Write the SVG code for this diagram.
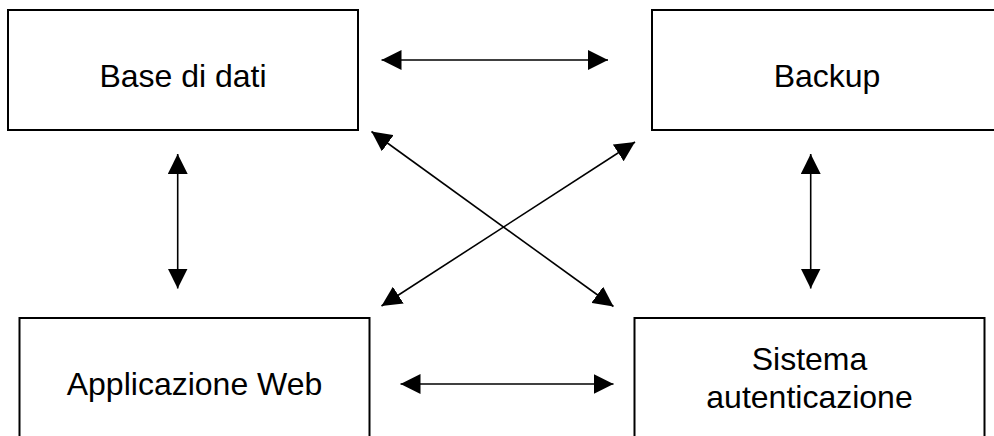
<svg xmlns="http://www.w3.org/2000/svg" width="994" height="436" viewBox="0 0 994 436">
  <style>
    .box { fill: #ffffff; stroke: #000000; stroke-width: 2; }
    .lbl { font-family: "Liberation Sans", Arial, sans-serif; font-size: 32px; fill: #000000; text-anchor: middle; }
    .conn { stroke: #000000; stroke-width: 1.6; fill: none; marker-start: url(#ah); marker-end: url(#ah); }
  </style>
  <defs>
    <marker id="ah" markerUnits="userSpaceOnUse" markerWidth="20" markerHeight="20" refX="20" refY="10" orient="auto-start-reverse" viewBox="0 0 20 20">
      <path d="M0,0 L20,10 L0,20 z" fill="#000000"/>
    </marker>
  </defs>
  <rect width="994" height="436" fill="#ffffff"/>
  <g id="node-base-di-dati">
    <rect class="box" x="8" y="10" width="350" height="120"/>
    <text class="lbl" x="183" y="87">Base di dati</text>
  </g>
  <g id="node-backup">
    <rect class="box" x="652" y="10" width="350" height="120"/>
    <text class="lbl" x="827" y="87">Backup</text>
  </g>
  <g id="node-applicazione-web">
    <rect class="box" x="19.5" y="318" width="350" height="130"/>
    <text class="lbl" x="194.5" y="395">Applicazione Web</text>
  </g>
  <g id="node-sistema-autenticazione">
    <rect class="box" x="634.5" y="318" width="350" height="130"/>
    <text class="lbl" x="809.5" y="370">Sistema</text>
    <text class="lbl" x="809.5" y="408">autenticazione</text>
  </g>
  <g id="connectors">
    <line class="conn" x1="381.5" y1="60" x2="608" y2="60"/>
    <line class="conn" x1="400.5" y1="384" x2="613.5" y2="384"/>
    <line class="conn" x1="177.7" y1="154" x2="177.7" y2="288.5"/>
    <line class="conn" x1="810.7" y1="154" x2="810.7" y2="288.5"/>
    <line class="conn" x1="371.5" y1="131.5" x2="613.5" y2="306.5"/>
    <line class="conn" x1="381.5" y1="306" x2="635" y2="142"/>
  </g>
</svg>
